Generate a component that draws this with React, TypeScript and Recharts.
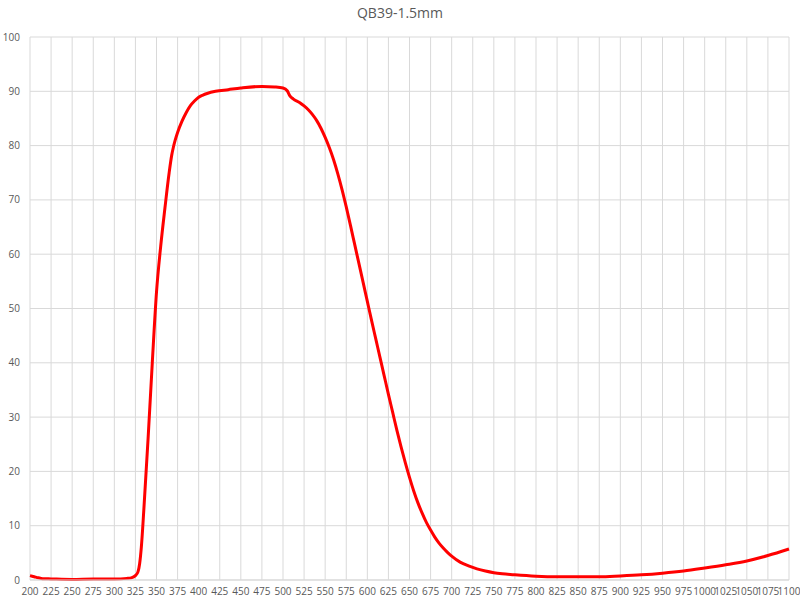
import React from "react";
import { LineChart, Line, XAxis, YAxis, CartesianGrid } from "recharts";

const wavelengths: number[] = [
  200, 205, 210, 215, 225, 250, 275, 300, 315, 320, 325, 328, 330, 332, 335, 340, 345, 350, 355, 360,
  365, 368, 370, 372, 375, 380, 385, 390, 395, 400, 405, 410, 420, 435, 450, 475, 490, 500, 505, 508,
  512, 520, 525, 530, 535, 540, 545, 550, 555, 560, 565, 570, 575, 580, 585, 590, 595, 600, 605, 610,
  615, 620, 625, 630, 635, 640, 645, 650, 655, 660, 665, 670, 675, 680, 685, 690, 695, 700, 710, 720,
  730, 740, 750, 760, 775, 800, 825, 850, 875, 900, 925, 950, 975, 1000, 1025, 1050, 1075, 1100,
];

const transmission: number[] = [
  0.8, 0.6, 0.4, 0.25, 0.2, 0.1, 0.2, 0.2, 0.3, 0.4, 0.8, 1.5, 3, 6, 13, 26, 40, 53, 61.5, 68.5,
  75, 78.2, 79.7, 80.9, 82.4, 84.4, 86.0, 87.3, 88.2, 88.9, 89.3, 89.6, 90.0, 90.3, 90.6, 90.9, 90.8, 90.6, 90.1, 89.2,
  88.6, 87.9, 87.3, 86.6, 85.7, 84.6, 83.2, 81.5, 79.6, 77.4, 74.8, 71.9, 68.7, 65.3, 61.8, 58.3, 54.8, 51.3, 47.8, 44.4,
  41.0, 37.6, 34.2, 30.9, 27.6, 24.5, 21.6, 18.9, 16.4, 14.2, 12.3, 10.6, 9.2, 7.9, 6.8, 5.9, 5.1, 4.4, 3.3, 2.6,
  2.05, 1.65, 1.35, 1.15, 0.95, 0.7, 0.6, 0.6, 0.6, 0.75, 0.95, 1.25, 1.65, 2.2, 2.8, 3.5, 4.5, 5.7,
];

const xTicks: number[] = Array.from({ length: 37 }, (_, i) => 200 + i * 25);
const yTicks: number[] = [0, 10, 20, 30, 40, 50, 60, 70, 80, 90, 100];

const title = "QB39-1.5mm";

const data = wavelengths.map((w, i) => ({ w, t: transmission[i] }));

const font = "'Open Sans', 'Segoe UI', sans-serif";
const tickStyle = { fontSize: 10, fill: "#595959", fontFamily: font };

export default function App() {
  return (
    <div style={{ position: "absolute", left: 0, top: 0, width: 800, height: 607, background: "#fff" }}>
      <div
        style={{
          position: "absolute",
          left: 0,
          top: 3,
          width: 800,
          textAlign: "center",
          fontFamily: font,
          fontSize: 14,
          color: "#595959",
        }}
      >
        {title}
      </div>
      <LineChart width={800} height={607} data={data} margin={{ top: 37, right: 11, bottom: 0, left: 0 }}>
        <CartesianGrid stroke="#d9d9d9" strokeWidth={1} />
        <XAxis
          dataKey="w"
          type="number"
          domain={[200, 1100]}
          ticks={xTicks}
          interval={0}
          tickLine={false}
          tickSize={0}
          tickMargin={8}
          axisLine={{ stroke: "#d9d9d9" }}
          tick={tickStyle}
          height={27}
        />
        <YAxis
          type="number"
          domain={[0, 100]}
          ticks={yTicks}
          interval={0}
          tickLine={false}
          axisLine={false}
          tickSize={0}
          tickMargin={10}
          width={30}
          tick={tickStyle}
        />
        <Line
          type="monotone"
          dataKey="t"
          stroke="#ff0000"
          strokeWidth={3}
          dot={false}
          isAnimationActive={false}
        />
      </LineChart>
    </div>
  );
}
